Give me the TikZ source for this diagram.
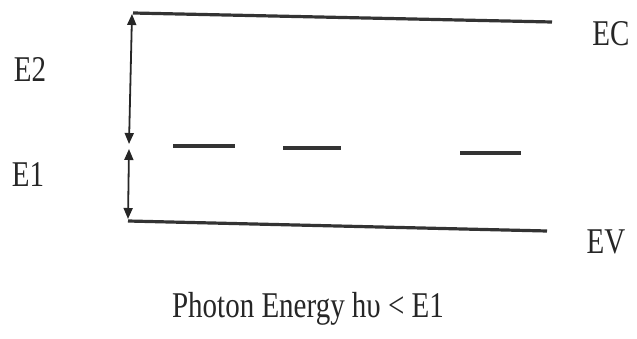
\documentclass[tikz,border=0pt]{standalone}
\usepackage{fontspec}
\setmainfont{Liberation Serif}
\usetikzlibrary{arrows.meta}
\newcommand{\tallt}[1]{\scalebox{1}[1.25]{#1}}
\begin{document}
\begin{tikzpicture}[x=1pt,y=-1pt,
  level/.style={line width=3.2pt,draw=black!80},
  gap/.style={line width=1.8pt,draw=black!85,{Triangle[width=9pt,length=11pt]}-{Triangle[width=9pt,length=11pt]}},
  lbl/.style={font=\fontsize{29}{30}\selectfont,text=black!85,inner sep=0pt}]
\useasboundingbox (0,0) rectangle (637,339);
% band edges
\coordinate (ec1) at (133,13);
\coordinate (ec2) at (552,22);
\coordinate (ev1) at (128,221);
\coordinate (ev2) at (547,231);
\draw[level] (ec1) -- (ec2);
\draw[level] (ev1) -- (ev2);
% trap level (dashed)
\coordinate (d1a) at (173,146); \coordinate (d1b) at (235,146);
\coordinate (d2a) at (283,148); \coordinate (d2b) at (341,148);
\coordinate (d3a) at (460,153); \coordinate (d3b) at (521,153);
\draw[level] (d1a) -- (d1b);
\draw[level] (d2a) -- (d2b);
\draw[level] (d3a) -- (d3b);
% energy gaps
\coordinate (a1) at (132,14);
\coordinate (a2) at (129,144);
\coordinate (b1) at (129,149);
\coordinate (b2) at (128,219);
\draw[gap] (a1) -- (a2);
\draw[gap] (b1) -- (b2);
% labels
\node[lbl] (E2) at (30,70) {\tallt{E2}};
\node[lbl] (E1) at (28,175) {\tallt{E1}};
\node[lbl] (EC) at (611,34) {\tallt{EC}};
\node[lbl] (EV) at (606,242) {\tallt{EV}};
\node[lbl] (cap) at (308,309) {\tallt{Photon Energy hυ < E1}};
\end{tikzpicture}
\end{document}
